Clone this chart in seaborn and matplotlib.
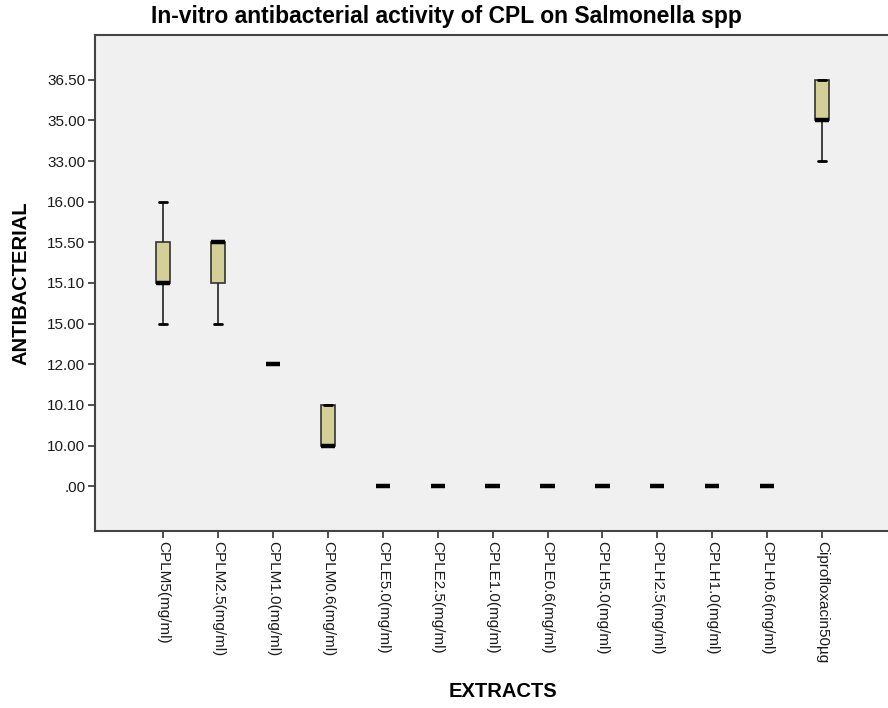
import pandas as pd
import numpy as np
import matplotlib
matplotlib.use("Agg")
import matplotlib.pyplot as plt
import seaborn as sns

# y axis is ordinal in the source (SPSS treats the values as categories)
levels = [".00", "10.00", "10.10", "12.00", "15.00", "15.10", "15.50", "16.00", "33.00", "35.00", "36.50"]

extracts = ["CPLM5(mg/ml)", "CPLM2.5(mg/ml)", "CPLM1.0(mg/ml)", "CPLM0.6(mg/ml)",
            "CPLE5.0(mg/ml)", "CPLE2.5(mg/ml)", "CPLE1.0(mg/ml)", "CPLE0.6(mg/ml)",
            "CPLH5.0(mg/ml)", "CPLH2.5(mg/ml)", "CPLH1.0(mg/ml)", "CPLH0.6(mg/ml)",
            "Ciprofloxacin50µg"]

cplm5 = ["15.00", "15.10", "15.10", "15.50", "16.00"]
cplm25 = ["15.00", "15.10", "15.50", "15.50", "15.50"]
cplm10 = ["12.00", "12.00", "12.00", "12.00", "12.00"]
cplm06 = ["10.00", "10.00", "10.00", "10.10", "10.10"]
zeros = [".00", ".00", ".00", ".00", ".00"]
cipro = ["33.00", "35.00", "35.00", "36.50", "36.50"]

groups = [cplm5, cplm25, cplm10, cplm06] + [zeros] * 8 + [cipro]


def build_frame():
    rows = []
    for name, vals in zip(extracts, groups):
        for v in vals:
            rows.append({"extract": name, "pos": levels.index(v)})
    return pd.DataFrame(rows)


def main():
    df = build_frame()
    sns.set_style("white")
    plt.rcParams["font.family"] = ["Liberation Sans", "DejaVu Sans"]

    fig = plt.figure(figsize=(8.88, 7.08), dpi=100)
    ax = fig.add_axes([0.107, 0.25, 0.893, 0.7006])
    ax.set_facecolor("#f0f0f0")

    sns.boxplot(data=df, x="extract", y="pos", order=extracts, ax=ax,
                color="#d4cf96", saturation=1, width=0.26, whis=(0, 100),
                linecolor="#222222", linewidth=1.2,
                medianprops={"color": "black", "linewidth": 3.2},
                boxprops={"edgecolor": "#333333"},
                capprops={"color": "black", "linewidth": 2})

    # narrow whisker caps like SPSS
    for line in ax.lines:
        xd = np.asarray(line.get_xdata(), dtype=float)
        yd = np.asarray(line.get_ydata(), dtype=float)
        if len(xd) == 2 and yd[0] == yd[1] and xd[0] != xd[1]:
            half = (xd[1] - xd[0]) / 2
            if abs(half) < 0.1:
                mid = xd.mean()
                line.set_xdata([mid - 0.07, mid + 0.07])

    ax.set_ylim(-1.1, 11.1)
    ax.set_xlim(-1.24, 13.2)
    ax.set_yticks(range(len(levels)))
    ax.set_yticklabels(levels, fontsize=11, color="#1a1a1a")
    ax.set_xticks(range(len(extracts)))
    ax.set_xticklabels(extracts, rotation=270, fontsize=11, color="#1a1a1a",
                       va="top", ha="center")
    ax.tick_params(axis="both", direction="out", length=5, width=1.2,
                   color="#333333", left=True, bottom=True, pad=2)

    for side in ["left", "bottom", "top"]:
        ax.spines[side].set_color("#444444")
        ax.spines[side].set_linewidth(1.5)
    ax.spines["right"].set_visible(False)

    ax.set_ylabel("ANTIBACTERIAL", fontsize=14.5, fontweight="bold", labelpad=12, color="black")
    ax.set_xlabel("EXTRACTS", fontsize=14.5, fontweight="bold", color="black")
    ax.xaxis.set_label_coords(0.514, -0.305)
    fig.text(0.503, 0.976, "In-vitro antibacterial activity of CPL on Salmonella spp",
             fontsize=16.5, fontweight="bold", ha="center", va="center", color="black")

    fig.savefig("out.png", dpi=100)


if __name__ == "__main__":
    main()
